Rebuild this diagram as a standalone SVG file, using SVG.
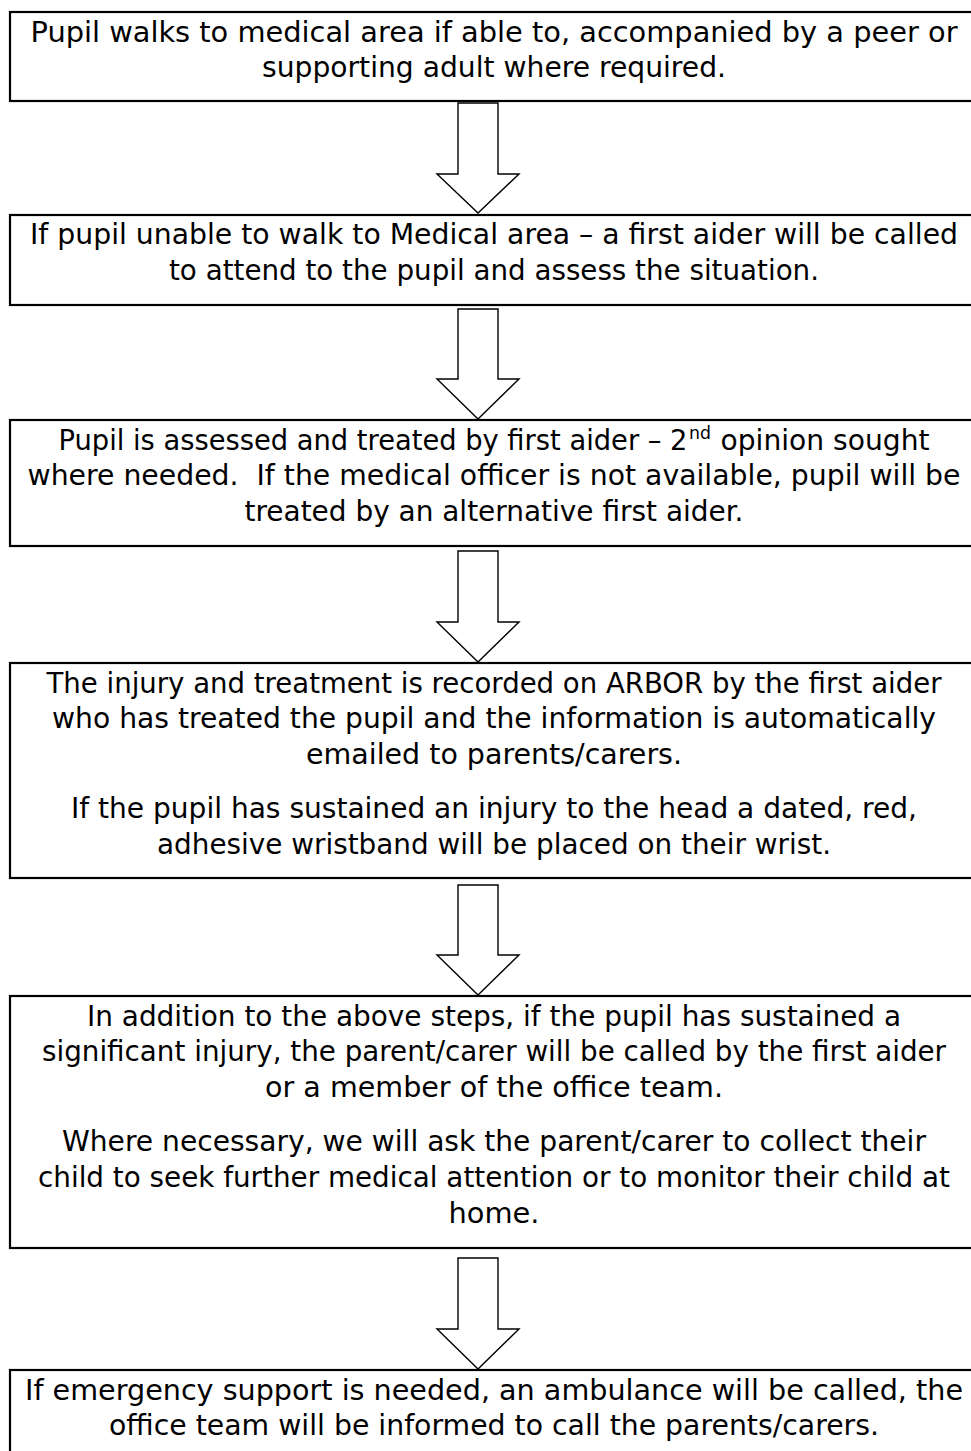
<svg xmlns="http://www.w3.org/2000/svg" width="971" height="1451" viewBox="0 0 971 1451">
<style>
.box{fill:#fff;stroke:#000;stroke-width:2.2}
.arr{fill:#fff;stroke:#000;stroke-width:1.4;stroke-linejoin:miter}
text{font-family:"DejaVu Sans","Liberation Sans",sans-serif;font-size:28px;fill:#000;text-anchor:middle}
text.st{text-anchor:start}
text.sup{text-anchor:start;font-size:18px}
</style>
<rect width="971" height="1451" fill="#fff"/>
<g id="connectors">
<path class="arr" d="M458,103 L498,103 L498,174 L519,174 L478,213 L437,174 L458,174 Z"/>
<path class="arr" d="M458,309 L498,309 L498,379 L519,379 L478,419 L437,379 L458,379 Z"/>
<path class="arr" d="M458,551 L498,551 L498,622 L519,622 L478,662 L437,622 L458,622 Z"/>
<path class="arr" d="M458,885 L498,885 L498,955 L519,955 L478,995 L437,955 L458,955 Z"/>
<path class="arr" d="M458,1258 L498,1258 L498,1329 L519,1329 L478,1369 L437,1329 L458,1329 Z"/>
</g>
<g id="step1">
<rect class="box" x="10" y="12" width="980" height="89"/>
<text x="494" y="41.5" textLength="927" lengthAdjust="spacingAndGlyphs">Pupil walks to medical area if able to, accompanied by a peer or</text>
<text x="494" y="77.3" textLength="464" lengthAdjust="spacingAndGlyphs">supporting adult where required.</text>
</g>
<g id="step2">
<rect class="box" x="10" y="215" width="980" height="90"/>
<text x="494" y="244" textLength="928" lengthAdjust="spacingAndGlyphs">If pupil unable to walk to Medical area – a first aider will be called</text>
<text x="494" y="280" textLength="650" lengthAdjust="spacingAndGlyphs">to attend to the pupil and assess the situation.</text>
</g>
<g id="step3">
<rect class="box" x="10" y="420" width="980" height="126"/>
<text class="st" x="58.5" y="449.5" textLength="629" lengthAdjust="spacingAndGlyphs">Pupil is assessed and treated by first aider – 2</text>
<text class="sup" x="689" y="439" textLength="22" lengthAdjust="spacingAndGlyphs">nd</text>
<text class="st" x="720.5" y="449.5" textLength="209" lengthAdjust="spacingAndGlyphs">opinion sought</text>
<text x="494" y="485.3" textLength="933" lengthAdjust="spacingAndGlyphs" xml:space="preserve">where needed.  If the medical officer is not available, pupil will be</text>
<text x="494" y="521" textLength="499" lengthAdjust="spacingAndGlyphs">treated by an alternative first aider.</text>
</g>
<g id="step4">
<rect class="box" x="10" y="663" width="980" height="215"/>
<text x="494" y="692.5" textLength="895" lengthAdjust="spacingAndGlyphs">The injury and treatment is recorded on ARBOR by the first aider</text>
<text x="494" y="728.3" textLength="884" lengthAdjust="spacingAndGlyphs">who has treated the pupil and the information is automatically</text>
<text x="494" y="764" textLength="376" lengthAdjust="spacingAndGlyphs">emailed to parents/carers.</text>
<text x="494" y="818" textLength="846" lengthAdjust="spacingAndGlyphs">If the pupil has sustained an injury to the head a dated, red,</text>
<text x="494" y="853.8" textLength="674" lengthAdjust="spacingAndGlyphs">adhesive wristband will be placed on their wrist.</text>
</g>
<g id="step5">
<rect class="box" x="10" y="996" width="980" height="252"/>
<text x="494" y="1025.5" textLength="814" lengthAdjust="spacingAndGlyphs">In addition to the above steps, if the pupil has sustained a</text>
<text x="494" y="1061.3" textLength="904" lengthAdjust="spacingAndGlyphs">significant injury, the parent/carer will be called by the first aider</text>
<text x="494" y="1097" textLength="458" lengthAdjust="spacingAndGlyphs">or a member of the office team.</text>
<text x="494" y="1151" textLength="864" lengthAdjust="spacingAndGlyphs">Where necessary, we will ask the parent/carer to collect their</text>
<text x="494" y="1186.7" textLength="912" lengthAdjust="spacingAndGlyphs">child to seek further medical attention or to monitor their child at</text>
<text x="494" y="1222.5" textLength="91" lengthAdjust="spacingAndGlyphs">home.</text>
</g>
<g id="step6">
<rect class="box" x="10" y="1370" width="980" height="100"/>
<text x="494" y="1399.5" textLength="938" lengthAdjust="spacingAndGlyphs">If emergency support is needed, an ambulance will be called, the</text>
<text x="494" y="1435.3" textLength="770" lengthAdjust="spacingAndGlyphs">office team will be informed to call the parents/carers.</text>
</g>
</svg>
